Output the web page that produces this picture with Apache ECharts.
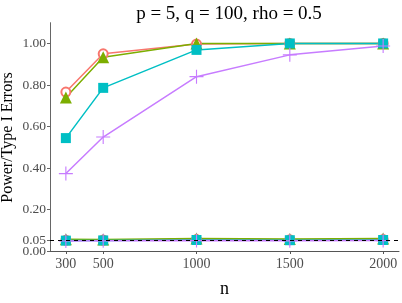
<!DOCTYPE html>
<html><head><meta charset="utf-8">
<script src="https://cdn.jsdelivr.net/npm/echarts@6/dist/echarts.min.js"></script>
<style>html,body{margin:0;padding:0;background:#fff}#c{width:402px;height:303px}</style>
</head><body><div id="c"></div>
<script>
const nValues = [300, 500, 1000, 1500, 2000];
const xTicks = [300, 500, 1000, 1500, 2000];
const yTicks = [0, 0.2, 0.4, 0.6, 0.8, 1.0];
const yTicksAlpha = [0.05];
const redPower = [0.766, 0.95, 0.997, 1.0, 1.0];
const greenPower = [0.74, 0.934, 1.0, 1.0, 1.0];
const cyanPower = [0.544, 0.786, 0.969, 1.0, 1.0];
const purplePower = [0.373, 0.549, 0.84, 0.945, 0.988];
const redType1 = [0.052, 0.053, 0.055, 0.054, 0.055];
const greenType1 = [0.057, 0.056, 0.06, 0.058, 0.06];
const cyanType1 = [0.05, 0.051, 0.053, 0.052, 0.053];
const purpleType1 = [0.048, 0.049, 0.05, 0.049, 0.05];
const alphaLevel = 0.05;

const serif = '"Liberation Serif", "DejaVu Serif", serif';
const plusPath = 'path://M4.6,0 H5.4 V4.6 H10 V5.4 H5.4 V10 H4.6 V5.4 H0 V4.6 H4.6 Z';
const styles = [
  {color: '#F8766D', symbol: 'emptyCircle', size: 9},
  {color: '#7CAE00', symbol: 'triangle', size: 12},
  {color: '#00BFC4', symbol: 'rect', size: 10},
  {color: '#C77CFF', symbol: plusPath, size: 14}
];
const powerSets = [redPower, greenPower, cyanPower, purplePower];
const type1Sets = [redType1, greenType1, cyanType1, purpleType1];

function mk(vals, st) {
  return {
    type: 'line',
    data: nValues.map((n, i) => [n, vals[i]]),
    symbol: st.symbol,
    symbolSize: st.size,
    lineStyle: {color: st.color, width: 1.5},
    itemStyle: {color: st.color, borderWidth: st.symbol === 'emptyCircle' ? 0.8 : 0, borderColor: st.color},
    emphasis: {disabled: true},
    animation: false
  };
}
const series = [];
for (let i = 0; i < 4; i++) series.push(mk(powerSets[i], styles[i]));
for (let i = 0; i < 4; i++) series.push(mk(type1Sets[i], styles[i]));
series.push({
  type: 'line', data: [], animation: false,
  markLine: {silent: true, symbol: 'none', label: {show: false},
    lineStyle: {color: '#000', type: [4, 4], width: 1.2},
    data: [{yAxis: alphaLevel}]}
});

const yLabelBase = {fontFamily: serif, fontSize: 13.5, color: '#4D4D4D', margin: 4,
  showMinLabel: true, hideOverlap: false, formatter: v => v.toFixed(2)};

const chart = echarts.init(document.getElementById('c'));
chart.setOption({
  backgroundColor: '#fff',
  animation: false,
  title: {text: 'p = 5, q = 100, rho = 0.5', left: 224, top: 0, textAlign: 'center',
    textStyle: {fontFamily: serif, fontSize: 19, fontWeight: 'normal', color: '#000'}},
  graphic: [{type: 'text', x: 8, y: 137.5, rotation: Math.PI / 2,
    style: {text: 'Power/Type I Errors', font: '16px ' + serif, fill: '#000',
      textAlign: 'center', textVerticalAlign: 'middle'}}],
  grid: {left: 50, right: 3, top: 22.7, bottom: 41},
  xAxis: {
    type: 'value', min: 215, max: 2085,
    name: 'n', nameLocation: 'middle', nameGap: 29,
    nameTextStyle: {fontFamily: serif, fontSize: 18, color: '#000'},
    axisLine: {lineStyle: {color: '#555', width: 1}},
    axisTick: {show: true, customValues: xTicks, length: 3, lineStyle: {color: '#555'}},
    splitLine: {show: false},
    axisLabel: {customValues: xTicks, fontFamily: serif, fontSize: 14, color: '#4D4D4D', margin: 6,
      formatter: v => String(v)}
  },
  yAxis: [{
    type: 'value', min: 0, max: 1.1, position: 'left',
    axisLine: {show: true, lineStyle: {color: '#666', width: 1}},
    axisTick: {show: true, customValues: yTicks, length: 3, lineStyle: {color: '#666'}},
    splitLine: {show: false},
    axisLabel: Object.assign({customValues: yTicks}, yLabelBase)
  }, {
    type: 'value', min: 0, max: 1.1, position: 'left', offset: 0,
    axisLine: {show: false},
    axisTick: {show: true, customValues: yTicksAlpha, length: 3, lineStyle: {color: '#666'}},
    splitLine: {show: false},
    axisLabel: Object.assign({customValues: yTicksAlpha}, yLabelBase)
  }],
  series: series
});
</script></body></html>
